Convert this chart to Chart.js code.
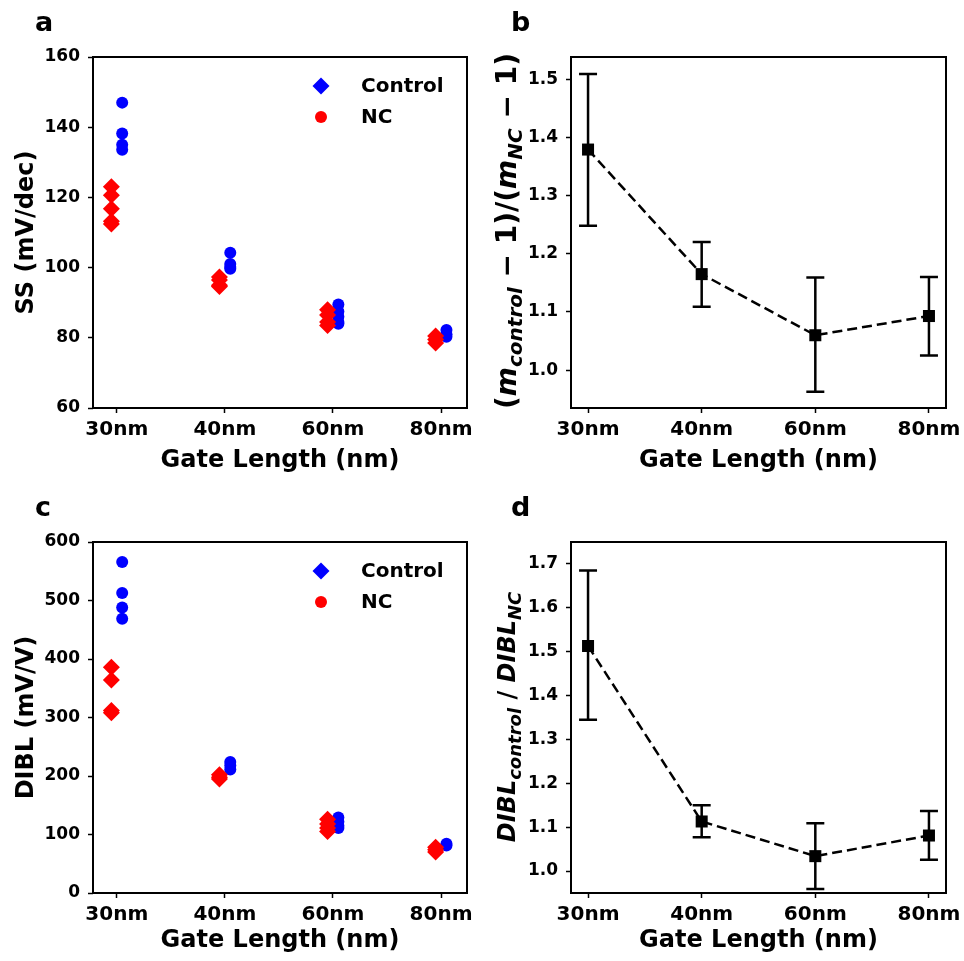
<!DOCTYPE html>
<html><head><meta charset="utf-8">
<script src="https://cdn.jsdelivr.net/npm/chart.js@4"></script>
<style>
html,body{margin:0;padding:0;background:#fff;}
#wrap{position:relative;width:964px;height:961px;overflow:hidden;background:#fff;}
canvas{position:absolute;}
.lab{position:absolute;font:bold 27px "DejaVu Sans";color:#000;line-height:27px;}
.ylab{position:absolute;font:bold 26px "DejaVu Sans";color:#000;white-space:nowrap;transform:translate(-50%,-50%) rotate(-90deg);line-height:30px;}
.ylab i{font-style:italic;}
.ylab sub{font-size:18px;vertical-align:-6px;line-height:0;}
#ylb{font-size:28px;}
#ylb sub{font-size:20px;}
#yld{font-size:24px;}
</style></head>
<body><div id="wrap">
<canvas id="ca" width="482" height="481" style="left:0;top:0;width:482px;height:481px"></canvas>
<canvas id="cb" width="482" height="481" style="left:482px;top:0;width:482px;height:481px"></canvas>
<canvas id="cc" width="482" height="480" style="left:0;top:481px;width:482px;height:480px"></canvas>
<canvas id="cd" width="482" height="480" style="left:482px;top:481px;width:482px;height:480px"></canvas>
<div class="lab" style="left:35px;top:8px">a</div>
<div class="lab" style="left:511px;top:8px">b</div>
<div class="lab" style="left:35px;top:493px">c</div>
<div class="lab" style="left:511px;top:493px">d</div>
<div class="ylab" id="ylb" style="left:507px;top:231px">(<i>m</i><sub><i>control</i></sub> − 1)/(<i>m</i><sub><i>NC</i></sub> − 1)</div>
<div class="ylab" id="yld" style="left:507px;top:717px"><i>DIBL</i><sub><i>control</i></sub> / <i>DIBL</i><sub><i>NC</i></sub></div>
</div>
<script>
// ---------- data ----------
const gateLabels = ['30nm', '40nm', '60nm', '80nm'];
const seriesNames = ['Control', 'NC'];

// SS (mV/dec) per gate length, individual devices
const ssControl = [[147.0, 138.2, 135.0, 133.6], [104.2, 101.0, 100.2, 99.7], [89.5, 87.5, 86.0, 84.5, 84.0], [82.2, 81.0, 80.3]];
const ssNC = [[123.0, 120.6, 116.8, 113.2, 112.4], [97.3, 96.5, 95.0, 94.6], [88.0, 86.5, 84.5, 83.5], [80.5, 79.5, 78.5]];

// DIBL (mV/V) per gate length, individual devices
const diblControl = [[566, 513, 488, 469], [224, 218, 211], [129, 122, 115, 111], [84, 81]];
const diblNC = [[386, 364, 312, 308], [202, 198, 195], [126, 118, 111, 105], [78, 74, 70]];

// ratios with error bars
const ssRatio = [1.379, 1.165, 1.060, 1.093];
const ssRatioLow = [1.248, 1.109, 0.963, 1.025];
const ssRatioHigh = [1.509, 1.220, 1.159, 1.160];
const diblRatio = [1.513, 1.113, 1.034, 1.081];
const diblRatioLow = [1.345, 1.077, 0.959, 1.026];
const diblRatioHigh = [1.685, 1.150, 1.109, 1.137];

// tick labels
const ssTicks = [60, 80, 100, 120, 140, 160];
const diblTicks = [0, 100, 200, 300, 400, 500, 600];
const ssRatioTicks = [1.0, 1.1, 1.2, 1.3, 1.4, 1.5];
const diblRatioTicks = [1.0, 1.1, 1.2, 1.3, 1.4, 1.5, 1.6, 1.7];

// ---------- helpers ----------
const FF = '"DejaVu Sans"';
const BLUE = '#0000ff', RED = '#ff0000';
const jitter = 0.05;

function groupPoints(groups, off) {
  const pts = [];
  groups.forEach((vals, i) => vals.forEach(v => pts.push({x: i + 1 + off, y: v})));
  return pts;
}
function linePoints(vals) { return vals.map((v, i) => ({x: i + 1, y: v})); }

const framePlugin = {
  id: 'frame',
  afterDraw(chart) {
    const a = chart.chartArea, ctx = chart.ctx;
    ctx.save(); ctx.strokeStyle = '#000'; ctx.lineWidth = 2;
    ctx.strokeRect(a.left, a.top, a.right - a.left, a.bottom - a.top);
    ctx.restore();
  }
};

function errorBarPlugin(low, high) {
  return {
    id: 'errbars',
    beforeDatasetsDraw(chart) {
      const xs = chart.scales.x, ys = chart.scales.y, ctx = chart.ctx;
      ctx.save(); ctx.strokeStyle = '#000'; ctx.lineWidth = 2.5;
      low.forEach((lo, i) => {
        const x = xs.getPixelForValue(i + 1);
        const y1 = ys.getPixelForValue(lo), y2 = ys.getPixelForValue(high[i]);
        ctx.beginPath();
        ctx.moveTo(x, y1); ctx.lineTo(x, y2);
        ctx.moveTo(x - 9, y1); ctx.lineTo(x + 9, y1);
        ctx.moveTo(x - 9, y2); ctx.lineTo(x + 9, y2);
        ctx.stroke();
      });
      ctx.restore();
    }
  };
}

function legendPlugin(y0) {
  return {
    id: 'customLegend',
    afterDraw(chart) {
      const ctx = chart.ctx;
      ctx.save();
      // Control: blue diamond
      ctx.fillStyle = BLUE;
      ctx.beginPath();
      ctx.moveTo(321 - 8.5, y0); ctx.lineTo(321, y0 - 8.5); ctx.lineTo(321 + 8.5, y0); ctx.lineTo(321, y0 + 8.5);
      ctx.closePath(); ctx.fill();
      // NC: red circle
      ctx.fillStyle = RED;
      ctx.beginPath(); ctx.arc(321, y0 + 31, 6, 0, Math.PI * 2); ctx.fill();
      ctx.fillStyle = '#000';
      ctx.font = 'bold 20px ' + FF;
      ctx.textBaseline = 'middle';
      ctx.fillText(seriesNames[0], 361, y0 + 1);
      ctx.fillText(seriesNames[1], 361, y0 + 32);
      ctx.restore();
    }
  };
}

function makeOptions(c) {
  return {
    responsive: false, animation: false,
    layout: {padding: {top: c.top, right: c.right, left: 0, bottom: 0}},
    plugins: {legend: {display: false}, tooltip: {enabled: false}},
    scales: {
      x: {
        type: 'linear', min: c.xmin, max: c.xmax,
        afterBuildTicks: s => { s.ticks = gateLabels.map((_, i) => ({value: i + 1})); },
        afterFit: s => { s.height = c.xh; s.paddingLeft = 0; s.paddingRight = 0; },
        ticks: {font: {family: FF, weight: 'bold', size: 20}, color: '#000', padding: 5, maxRotation: 0, autoSkip: false,
                callback: v => gateLabels[Math.round(v) - 1]},
        grid: {display: true, drawOnChartArea: false, drawTicks: true, tickLength: 5, tickColor: '#000', tickWidth: 1.5},
        border: {display: false},
        title: {display: true, text: 'Gate Length (nm)', font: {family: FF, weight: 'bold', size: 24}, color: '#000', padding: {top: 0, bottom: 6}}
      },
      y: {
        type: 'linear', min: c.ymin, max: c.ymax,
        afterBuildTicks: s => { s.ticks = c.yticks.map(v => ({value: v})); },
        afterFit: s => { s.width = c.yw; s.paddingTop = 0; s.paddingBottom = 0; },
        ticks: {font: {family: FF, weight: 'bold', size: 17}, color: '#000', padding: 8, autoSkip: false,
                callback: v => c.fmt(v)},
        grid: {display: true, drawOnChartArea: false, drawTicks: true, tickLength: 5, tickColor: '#000', tickWidth: 1.5},
        border: {display: false},
        title: {display: !!c.ytitle, text: c.ytitle || '', font: {family: FF, weight: 'bold', size: 24}, color: '#000', padding: {top: 12, bottom: 0}}
      }
    }
  };
}

function scatterChart(id, control, nc, cfg, legendY) {
  return new Chart(document.getElementById(id), {
    type: 'scatter',
    data: {datasets: [
      {label: seriesNames[1], data: groupPoints(nc, -jitter), pointStyle: 'rectRot', pointRadius: 8.5, backgroundColor: RED, borderWidth: 0},
      {label: seriesNames[0], data: groupPoints(control, jitter), pointStyle: 'circle', pointRadius: 6, backgroundColor: BLUE, borderWidth: 0}
    ]},
    options: makeOptions(cfg),
    plugins: [framePlugin, legendPlugin(legendY)]
  });
}

function ratioChart(id, vals, low, high, cfg) {
  return new Chart(document.getElementById(id), {
    type: 'line',
    data: {datasets: [
      {data: linePoints(vals), borderColor: '#000', borderWidth: 2.5, borderDash: [10, 5], backgroundColor: '#000',
       pointStyle: 'rect', pointRadius: 8.5, pointBorderWidth: 0, fill: false, tension: 0}
    ]},
    options: makeOptions(cfg),
    plugins: [errorBarPlugin(low, high), framePlugin]
  });
}

const intFmt = v => String(Math.round(v));
const decFmt = v => v.toFixed(1);

scatterChart('ca', ssControl, ssNC,
  {top: 57, right: 15, xh: 73, yw: 93, xmin: 0.78, xmax: 4.24, ymin: 60, ymax: 160, yticks: ssTicks, fmt: intFmt, ytitle: 'SS (mV/dec)'}, 86);
ratioChart('cb', ssRatio, ssRatioLow, ssRatioHigh,
  {top: 57, right: 18, xh: 73, yw: 89, xmin: 0.85, xmax: 4.15, ymin: 0.935, ymax: 1.538, yticks: ssRatioTicks, fmt: decFmt});
scatterChart('cc', diblControl, diblNC,
  {top: 61, right: 15, xh: 68, yw: 93, xmin: 0.78, xmax: 4.24, ymin: 0, ymax: 600, yticks: diblTicks, fmt: intFmt, ytitle: 'DIBL (mV/V)'}, 90);
ratioChart('cd', diblRatio, diblRatioLow, diblRatioHigh,
  {top: 61, right: 18, xh: 68, yw: 89, xmin: 0.85, xmax: 4.15, ymin: 0.95, ymax: 1.75, yticks: diblRatioTicks, fmt: decFmt});
</script>
</body></html>
